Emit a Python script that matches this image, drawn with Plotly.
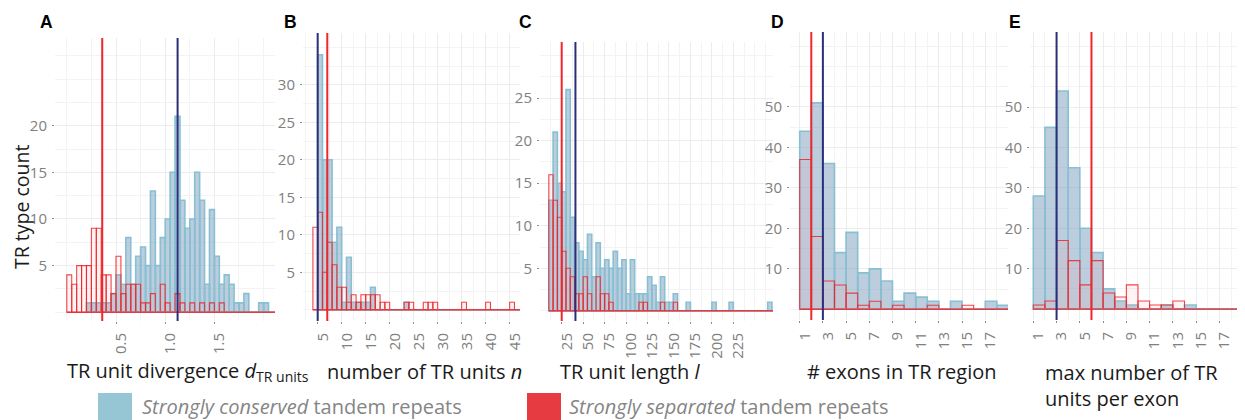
import plotly.graph_objects as go

# The page body has an 8px margin, so the figure is drawn 8px in from the window's top-left.
OFF = 8
WIN_W, WIN_H = 1245, 420
W, H = WIN_W - OFF, WIN_H - OFF

# ---------------- data (histogram counts) ----------------
# Panel A: TR unit divergence, bin width 0.05
a_bin = 0.05
a_con_start = 0.20
a_con = [1, 1, 1, 1, 1, 2, 4, 3, 8, 3, 6, 7, 5, 13, 5, 8, 10, 15, 21, 12, 9, 10, 15, 12,
         3, 11, 6, 3, 4, 3, 1, 1, 2, 0, 0, 1, 1, 0, 0]
a_sep_start = 0.0
a_sep = [4, 3, 5, 5, 5, 9, 9, 4, 4, 2, 6, 2, 3, 3, 3, 1, 1, 2, 0, 3, 1, 0, 2, 1, 0, 1, 0,
         1, 0, 1, 0, 1, 0, 0, 0, 0, 0, 0, 0, 0, 0, 0, 0]

# Panel B: number of TR units n, bin width 1
b_bin = 1
b_con_start = 5
b_con = [34, 20, 20, 9, 11, 1, 7, 1, 1, 1, 1, 3, 0, 0, 0, 0, 0, 0, 1, 0, 0, 0, 0, 0, 0,
         0, 0, 0, 0, 0, 0, 0, 0, 0, 0, 0, 0, 0, 0, 0, 0, 0, 0]
b_sep_start = 4
b_sep = [11, 13, 5, 9, 6, 3, 3, 1, 2, 1, 2, 2, 2, 2, 1, 1, 0, 0, 0, 1, 1, 0, 0, 1, 1, 1,
         0, 0, 0, 0, 0, 1, 0, 0, 0, 0, 1, 0, 0, 0, 0, 1, 0, 0]

# Panel C: TR unit length l, bin width 5
c_bin = 5
c_con_start = 10
c_con = [13, 21, 15, 14, 26, 11, 8, 7, 6, 9, 4, 8, 5, 6, 5, 7, 5, 6, 2, 6, 2, 2, 2, 4, 3,
         1, 4, 1, 1, 2, 0, 0, 1, 0, 0, 0, 0, 0, 1, 0, 0, 0, 1, 0, 0, 0, 0, 0, 0, 0, 0, 1, 0]
c_sep_start = 10
c_sep = [16, 13, 11, 7, 5, 4, 2, 2, 4, 2, 0, 4, 2, 2, 1, 0, 0, 0, 0, 0, 0, 1, 1, 0, 0, 0,
         1, 0, 0, 1, 0, 0, 0, 0, 0, 0, 0, 0, 0, 0, 0, 0, 0, 0, 0, 0, 0, 0, 0, 0, 0, 0, 0]

# Panel D: number of exons in TR region, bin width 1
d_bin = 1
d_con_start = 1
d_con = [44, 51, 36, 14, 19, 9, 10, 7, 2, 4, 3, 2, 0, 2, 0, 0, 2, 1]
d_sep_start = 1
d_sep = [37, 18, 7, 6, 4, 1, 2, 0, 1, 0, 0, 1, 0, 0, 1, 0, 0, 0]

# Panel E: max number of TR units per exon, bin width 1
e_bin = 1
e_con_start = 1
e_con = [28, 45, 54, 35, 20, 14, 5, 2, 1, 0, 0, 1, 0, 1, 0, 0, 0, 0, 0]
e_sep_start = 1
e_sep = [1, 2, 17, 12, 6, 12, 4, 3, 6, 2, 1, 1, 2, 0, 0, 0, 0, 0, 1]

# medians (vertical lines)
med_con = [1.126, 5, 41, 3, 3]
med_sep = [0.36, 7, 25, 2, 6]

panel_letters = ["A", "B", "C", "D", "E"]
x_titles = [
    "TR unit divergence <i>d</i><sub>TR units</sub>",
    "number of TR units <i>n</i>",
    "TR unit length <i>l</i>",
    "# exons in TR region",
    "max number of TR<br>units per exon",
]
y_title = "TR type count"
legend_labels = ["<i>Strongly conserved</i> tandem repeats",
                 "<i>Strongly separated</i> tandem repeats"]

a_xticks = [0.5, 1.0, 1.5]
a_xtext = ["0.5", "1.0", "1.5"]
b_xticks = [5, 10, 15, 20, 25, 30, 35, 40, 45]
c_xticks = [25, 50, 75, 100, 125, 150, 175, 200, 225]
de_xticks = [1, 3, 5, 7, 9, 11, 13, 15, 17]

# ---------------- styling ----------------
FONT = "Open Sans"
CON_FILL = "rgba(122,156,190,0.50)"
CON_LINE = "rgba(135,192,210,1)"
SEP_FILL = "rgba(255,140,140,0.10)"
SEP_LINE = "rgba(236,38,44,0.85)"
VL_CON = "#2b2e78"
VL_SEP = "#f0262b"
GRID = "#ececec"
GRID_MINOR = "#f3f3f3"
TICK_FONT = dict(family=FONT, size=15, color="#808080")
TITLE_FONT = dict(family=FONT, size=20, color="#1a1a1a")


def px_x(px):
    return (px - OFF) / W


def px_y(py):
    return 1 - (py - OFF) / H


panels = [
    dict(con=(a_con_start, a_bin, a_con), sep=(a_sep_start, a_bin, a_sep),
         dx=(55, 275), dy=(38, 321), xr=(-0.12, 2.116), yr=(-0.94, 29.4),
         xt=a_xticks, xtt=a_xtext, xm=0.25, yt=[5, 10, 15, 20], ym=2.5),
    dict(con=(b_con_start, b_bin, b_con), sep=(b_sep_start, b_bin, b_sep),
         dx=(303, 520), dy=(33, 321), xr=(1.94, 47.15), yr=(-1.5, 36.9),
         xt=b_xticks, xtt=[str(v) for v in b_xticks], xm=2.5, yt=[5, 10, 15, 20, 25, 30], ym=2.5),
    dict(con=(c_con_start, c_bin, c_con), sep=(c_sep_start, c_bin, c_sep),
         dx=(540, 773), dy=(42, 321), xr=(-0.28, 271.2), yr=(-1.2, 31.6),
         xt=c_xticks, xtt=[str(v) for v in c_xticks], xm=12.5, yt=[5, 10, 15, 20, 25], ym=2.5),
    dict(con=(d_con_start, d_bin, d_con), sep=(d_sep_start, d_bin, d_sep),
         dx=(790, 1008), dy=(32, 320), xr=(0.164, 18.96), yr=(-2.64, 68.5),
         xt=de_xticks, xtt=[str(v) for v in de_xticks], xm=1, yt=[10, 20, 30, 40, 50], ym=5),
    dict(con=(e_con_start, e_bin, e_con), sep=(e_sep_start, e_bin, e_sep),
         dx=(1030, 1245), dy=(32, 320), xr=(0.716, 19.2), yr=(-2.7, 68.6),
         xt=de_xticks, xtt=[str(v) for v in de_xticks], xm=1, yt=[10, 20, 30, 40, 50], ym=5),
]

fig = go.Figure()
layout = dict(
    width=W, height=H, margin=dict(l=0, r=0, t=0, b=0, pad=0, autoexpand=False),
    paper_bgcolor="white", plot_bgcolor="white",
    barmode="overlay", showlegend=False,
    font=dict(family=FONT),
)
shapes = []
annotations = []


def add_hist(start, width, counts, fill, line, lw, xa, ya):
    centers = [start + width * (i + 0.5) for i in range(len(counts))]
    fig.add_trace(go.Bar(
        x=centers, y=counts, width=width,
        marker=dict(color=fill, line=dict(color=line, width=lw)),
        xaxis=xa, yaxis=ya, hoverinfo="skip"))
    # baseline (zero-count bins) spanning the histogram range
    fig.add_trace(go.Scatter(
        x=[start, start + width * len(counts)], y=[0, 0], mode="lines",
        line=dict(color=line, width=1.4), xaxis=xa, yaxis=ya, hoverinfo="skip"))


for i, p in enumerate(panels):
    n = "" if i == 0 else str(i + 1)
    xa, ya = "x" + n, "y" + n
    add_hist(*p["con"], CON_FILL, CON_LINE, 1.6, xa, ya)
    add_hist(*p["sep"], SEP_FILL, SEP_LINE, 1.1, xa, ya)

    layout["xaxis" + n] = dict(
        domain=[max(0, px_x(p["dx"][0])), min(1, px_x(p["dx"][1]))], range=list(p["xr"]),
        anchor=ya, tickmode="array", tickvals=p["xt"], ticktext=p["xtt"],
        tickangle=-90, tickfont=TICK_FONT, ticks="outside", ticklen=2,
        tickcolor="#8a8a8a", tickwidth=1, ticklabelshift=5, ticklabelstandoff=3,
        showgrid=True, gridcolor=GRID, gridwidth=1, zeroline=False, showline=False,
        minor=dict(dtick=p["xm"], tick0=0, showgrid=True, gridcolor=GRID_MINOR, ticks=""),
        automargin=False, fixedrange=True)
    layout["yaxis" + n] = dict(
        domain=[px_y(p["dy"][1]), px_y(p["dy"][0])], range=list(p["yr"]),
        anchor=xa, tickmode="array", tickvals=p["yt"], ticktext=[str(v) for v in p["yt"]],
        tickfont=TICK_FONT, ticks="outside", ticklen=2, tickcolor="#8a8a8a",
        tickwidth=1, ticklabelstandoff=2,
        showgrid=True, gridcolor=GRID, gridwidth=1, zeroline=False, showline=False,
        minor=dict(dtick=p["ym"], tick0=0, showgrid=True, gridcolor=GRID_MINOR, ticks=""),
        automargin=False, fixedrange=True)

    # median lines
    shapes.append(dict(type="line", xref=xa, yref=ya + " domain", x0=med_con[i], x1=med_con[i],
                       y0=0, y1=1, line=dict(color=VL_CON, width=2), layer="above"))
    shapes.append(dict(type="line", xref=xa, yref=ya + " domain", x0=med_sep[i], x1=med_sep[i],
                       y0=0, y1=1, line=dict(color=VL_SEP, width=2), layer="above"))

# panel letters
letter_px = [46, 290, 525, 777, 1015]
for L, px in zip(panel_letters, letter_px):
    annotations.append(dict(text="<b>" + L + "</b>", x=px_x(px), y=px_y(22), xref="paper",
                            yref="paper", xanchor="center", yanchor="middle", showarrow=False,
                            font=dict(family="Liberation Sans", size=17.5, color="black")))

# x-axis titles
title_px = [65, 325, 558, 805, 1043]
for t, px in zip(x_titles, title_px):
    two = "<br>" in t
    annotations.append(dict(text=t, x=px_x(px), y=px_y(357 if two else 371), xref="paper",
                            yref="paper", xanchor="left", yanchor="top" if two else "middle",
                            align="left", showarrow=False, font=TITLE_FONT))

# y-axis title
annotations.append(dict(text=y_title, x=px_x(21), y=px_y(207), xref="paper", yref="paper",
                        textangle=-90, xanchor="center", yanchor="middle", showarrow=False,
                        font=dict(family=FONT, size=19.5, color="#1a1a1a")))

# legend (swatches + labels)
leg_colors = ["#96c5d3", "#e63c41"]
leg_sw = [(98, 132), (527, 561)]
leg_tx = [140, 567]
for lab, col, sw, tx in zip(legend_labels, leg_colors, leg_sw, leg_tx):
    shapes.append(dict(type="rect", xref="paper", yref="paper", x0=px_x(sw[0]), x1=px_x(sw[1]),
                       y0=px_y(430), y1=px_y(393), fillcolor=col, line=dict(width=0)))
    annotations.append(dict(text=lab, x=px_x(tx), y=px_y(406), xref="paper", yref="paper",
                            xanchor="left", yanchor="middle", showarrow=False,
                            font=dict(family=FONT, size=20, color="#858585")))

layout["shapes"] = shapes
layout["annotations"] = annotations
fig.update_layout(**layout)
fig.write_html("out.html")
